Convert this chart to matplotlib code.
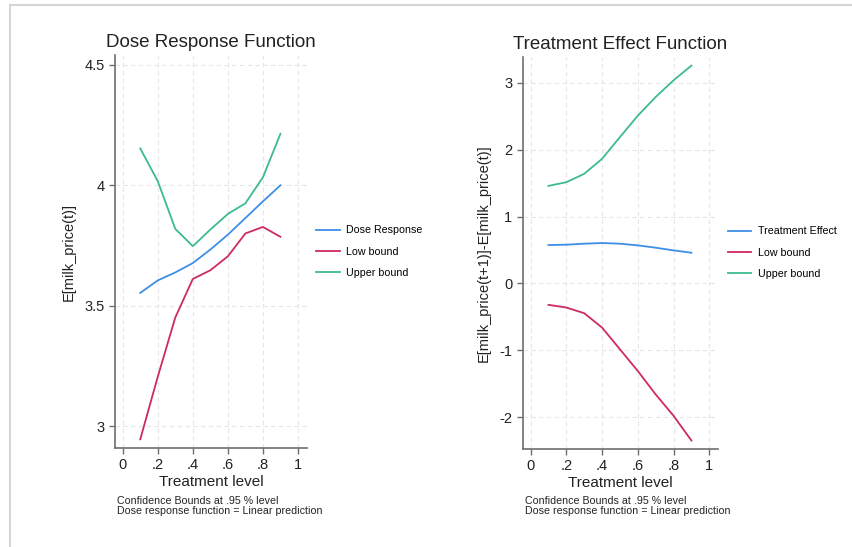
import numpy as np
import matplotlib.pyplot as plt
from matplotlib.lines import Line2D

# treatment levels
levels = [0.1, 0.2, 0.3, 0.4, 0.5, 0.6, 0.7, 0.8, 0.9]

# dose response function
dose_resp = [3.553, 3.605, 3.638, 3.677, 3.733, 3.795, 3.864, 3.933, 4.0]
dose_low = [2.945, 3.205, 3.451, 3.611, 3.647, 3.705, 3.80, 3.827, 3.786]
dose_up = [4.153, 4.017, 3.819, 3.747, 3.816, 3.881, 3.925, 4.033, 4.214]

# treatment effect function
te = [0.575, 0.58, 0.595, 0.605, 0.595, 0.57, 0.535, 0.495, 0.46]
te_low = [-0.32, -0.36, -0.445, -0.66, -0.985, -1.31, -1.66, -1.98, -2.35]
te_up = [1.46, 1.515, 1.64, 1.865, 2.19, 2.51, 2.79, 3.04, 3.26]

x_ticks = [0, 0.2, 0.4, 0.6, 0.8, 1]
x_ticklabels = ['0', '.2', '.4', '.6', '.8', '1']

blue = '#3d8fe6'
red = '#cf2a5e'
green = '#3cbb8c'
spine_col = '#6e6e6e'

plt.rcParams['font.family'] = ['Liberation Sans', 'DejaVu Sans']

fig = plt.figure(figsize=(8.52, 5.47), dpi=100)
# screenshot frame: top and left edges only
fig.lines.append(Line2D([9.5 / 852, 1], [1 - 4.5 / 547, 1 - 4.5 / 547],
                        transform=fig.transFigure, color='#d6d6d6', lw=1.5))
fig.lines.append(Line2D([9.5 / 852, 9.5 / 852], [0, 1 - 4.5 / 547],
                        transform=fig.transFigure, color='#d6d6d6', lw=1.5))


def style_axes(ax, ylim, yticks, yticklabels):
    ax.set_xlim(-0.044, 1.05)
    ax.set_ylim(*ylim)
    ax.set_xticks(x_ticks)
    ax.set_xticklabels(x_ticklabels)
    ax.set_yticks(yticks)
    ax.set_yticklabels(yticklabels)
    for s in ['top', 'right']:
        ax.spines[s].set_visible(False)
    for s in ['left', 'bottom']:
        ax.spines[s].set_color(spine_col)
        ax.spines[s].set_linewidth(1.2)
    ax.tick_params(colors=spine_col, labelcolor='#222222', labelsize=10.5,
                   length=4, width=1)
    ax.grid(True, color='#e6e6e6', linestyle=(0, (4, 3)), linewidth=0.8)
    ax.set_axisbelow(True)
    ax.set_xlabel('Treatment level', fontsize=11, color='#222222', labelpad=2)


ax1 = fig.add_axes([0.135, 0.181, 0.225, 0.718])
ax1.plot(levels, dose_resp, color=blue, lw=1.3, label='Dose Response')
ax1.plot(levels, dose_low, color=red, lw=1.3, label='Low bound')
ax1.plot(levels, dose_up, color=green, lw=1.3, label='Upper bound')
style_axes(ax1, (2.909, 4.54), [3, 3.5, 4, 4.5], ['3', '3.5', '4', '4.5'])
ax1.set_ylabel('E[milk_price(t)]', fontsize=10.5, color='#222222', labelpad=6)
ax1.set_title('Dose Response Function', fontsize=13.5, color='#222222', pad=6)
ax1.legend(loc='center left', bbox_to_anchor=(1.0, 0.5), frameon=False,
           fontsize=7.7, handlelength=2.2, handletextpad=0.6, labelspacing=1.05)

ax2 = fig.add_axes([0.6135, 0.180, 0.2295, 0.716])
ax2.plot(levels, te, color=blue, lw=1.3, label='Treatment Effect')
ax2.plot(levels, te_low, color=red, lw=1.3, label='Low bound')
ax2.plot(levels, te_up, color=green, lw=1.3, label='Upper bound')
style_axes(ax2, (-2.47, 3.39), [-2, -1, 0, 1, 2, 3], ['-2', '-1', '0', '1', '2', '3'])
ax2.set_ylabel('E[milk_price(t+1)]-E[milk_price(t)]', fontsize=10.5,
               color='#222222', labelpad=6)
ax2.set_title('Treatment Effect Function', fontsize=13.5, color='#222222', pad=6)
ax2.legend(loc='center left', bbox_to_anchor=(1.0, 0.5), frameon=False,
           fontsize=7.7, handlelength=2.2, handletextpad=0.6, labelspacing=1.05)

note = 'Confidence Bounds at .95 % level\nDose response function = Linear prediction'
fig.text(117 / 852, 1 - 496 / 547, note, fontsize=7.7, color='#222222',
         va='top', ha='left', linespacing=1.0)
fig.text(525 / 852, 1 - 496 / 547, note, fontsize=7.7, color='#222222',
         va='top', ha='left', linespacing=1.0)

fig.savefig('out.png', dpi=100)
